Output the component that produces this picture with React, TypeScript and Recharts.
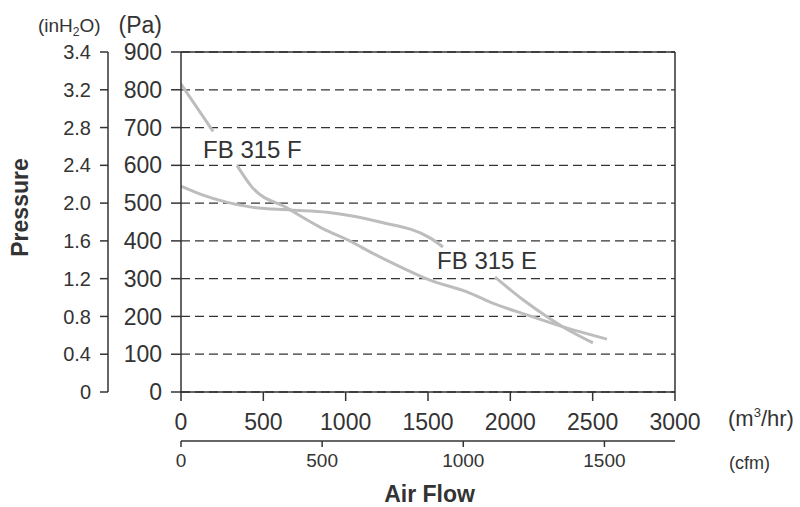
import {
  LineChart, Line, XAxis, YAxis, CartesianGrid, ReferenceLine, ReferenceDot, Label,
} from 'recharts'

const PA_TICKS = [0, 100, 200, 300, 400, 500, 600, 700, 800, 900]
const INH2O_LABELS = ['0', '0.4', '0.8', '1.2', '1.6', '2.0', '2.4', '2.8', '3.2', '3.4']
const M3H_TICKS = [0, 500, 1000, 1500, 2000, 2500, 3000]
const CFM_TICKS = [0, 500, 1000, 1500]

// FB 315 F (null = gap left for its label)
const F_FLOW = [0, 195, 268, 340, 430, 645, 855, 1038, 1148, 1348, 1512, 1737, 1877, 2101, 2302, 2587]
const F_PRESSURE = [815, 690, null, 600, 543, 487, 434, 397, 371, 328, 296, 265, 238, 204, 175, 140]

// FB 315 E
const E_FLOW = [0, 134, 419, 662, 887, 1209, 1512, 1591, 1750, 1907, 2077, 2223, 2320, 2502]
const E_PRESSURE = [545, 521, 490, 482, 476, 450, 408, 384, null, 304, 244, 199, 172, 130]

const F_NAME = 'FB 315 F'
const E_NAME = 'FB 315 E'

const FONT = '"Liberation Sans", Arial, sans-serif'
const INK = '#333'
const CURVE = '#bdbdbd'

const toRows = (xs: number[], ys: (number | null)[]) => xs.map((flow, i) => ({ flow, pressure: ys[i] }))
const fData = toRows(F_FLOW, F_PRESSURE)
const eData = toRows(E_FLOW, E_PRESSURE)

const axisLine = { stroke: INK, strokeWidth: 1.5 }

// axis ids sort so that x1 / y1 end up next to the plot
const M3 = 'x1'
const CFM = 'x2'
const PA = 'y1'
const IN = 'y2'

function InchUnit(props: any) {
  const { x, y } = props.viewBox
  return (
    <g>
      <text x={x + 38} y={y - 20} fontSize={19} fill={INK} fontFamily={FONT}>
        (inH<tspan fontSize={12} dy={4}>2</tspan><tspan dy={-4}>O)</tspan>
      </text>
      <text x={28} y={207.5} transform="rotate(-90 28 207.5)" textAnchor="middle"
        fontSize={23} fontWeight="bold" fill={INK} fontFamily={FONT}>Pressure</text>
    </g>
  )
}

function PaUnit(props: any) {
  const { x, y, width } = props.viewBox
  return <text x={x + width - 19} y={y - 19} textAnchor="end" fontSize={23} fill={INK} fontFamily={FONT}>(Pa)</text>
}

function M3Unit(props: any) {
  const { x, y, width } = props.viewBox
  return (
    <text x={x + width + 53} y={y + 34} fontSize={22} fill={INK} fontFamily={FONT}>
      (m<tspan fontSize={13} dy={-9}>3</tspan><tspan dy={9}>/hr)</tspan>
    </text>
  )
}

function CfmUnit(props: any) {
  const { x, y, width } = props.viewBox
  return (
    <g>
      <text x={x + width + 54} y={y + 28} fontSize={18} fill={INK} fontFamily={FONT}>(cfm)</text>
      <text x={x + width / 2 + 1.5} y={y + 61} textAnchor="middle" fontSize={23} fontWeight="bold"
        fill={INK} fontFamily={FONT}>Air Flow</text>
    </g>
  )
}

export default function App() {
  return (
    <div style={{ position: 'absolute', left: 0, top: 0, width: 800, height: 507, background: '#fff' }}>
      <LineChart width={800} height={507} margin={{ top: 52, right: 125, bottom: 0, left: 0 }}
        style={{ fontFamily: FONT }}>
        <CartesianGrid xAxisId={M3} yAxisId={PA} vertical={false} stroke={INK} strokeWidth={1.3}
          strokeDasharray="9 5" />
        <XAxis xAxisId={M3} dataKey="flow" type="number" domain={[0, 3000]} ticks={M3H_TICKS}
          interval={0} allowDataOverflow height={49} tickSize={9} tickMargin={13}
          axisLine={axisLine} tickLine={axisLine} tick={{ fontSize: 23, fill: INK }}>
          <Label content={M3Unit} />
        </XAxis>
        <XAxis xAxisId={CFM} dataKey="flow" type="number" domain={[0, 1750]} ticks={CFM_TICKS} interval={0}
          allowDataOverflow height={66} tickSize={6} tickMargin={7}
          axisLine={axisLine} tickLine={axisLine} tick={{ fontSize: 19, fill: INK }}>
          <Label content={CfmUnit} />
        </XAxis>
        <YAxis yAxisId={PA} type="number" domain={[0, 900]} ticks={PA_TICKS} interval={0}
          allowDataOverflow width={73} tickSize={10} tickMargin={9}
          axisLine={axisLine} tickLine={axisLine} tick={{ fontSize: 23, fill: INK }}>
          <Label content={PaUnit} />
        </YAxis>
        <YAxis yAxisId={IN} type="number" domain={[0, 900]} ticks={PA_TICKS} interval={0}
          allowDataOverflow width={108} tickSize={8} tickMargin={9}
          tickFormatter={(_v: number, i: number) => INH2O_LABELS[i]}
          axisLine={axisLine} tickLine={axisLine} tick={{ fontSize: 20, fill: INK }}>
          <Label content={InchUnit} />
        </YAxis>
        <ReferenceLine xAxisId={M3} yAxisId={PA} y={900} stroke={INK} strokeWidth={1.5} />
        <ReferenceLine xAxisId={M3} yAxisId={PA} x={3000} stroke={INK} strokeWidth={1.5} />
        <Line xAxisId={M3} yAxisId={PA} data={fData} dataKey="pressure" type="monotone"
          stroke={CURVE} strokeWidth={3} dot={false} activeDot={false} isAnimationActive={false} />
        <Line xAxisId={M3} yAxisId={PA} data={eData} dataKey="pressure" type="monotone"
          stroke={CURVE} strokeWidth={3} dot={false} activeDot={false} isAnimationActive={false} />
        <ReferenceDot xAxisId={M3} yAxisId={PA} x={134} y={643} r={0} fill="none" stroke="none"
          label={{ value: F_NAME, position: 'right', offset: 0, fontSize: 24, fill: INK }} />
        <ReferenceDot xAxisId={M3} yAxisId={PA} x={1555} y={348} r={0} fill="none" stroke="none"
          label={{ value: E_NAME, position: 'right', offset: 0, fontSize: 24, fill: INK }} />
      </LineChart>
    </div>
  )
}
